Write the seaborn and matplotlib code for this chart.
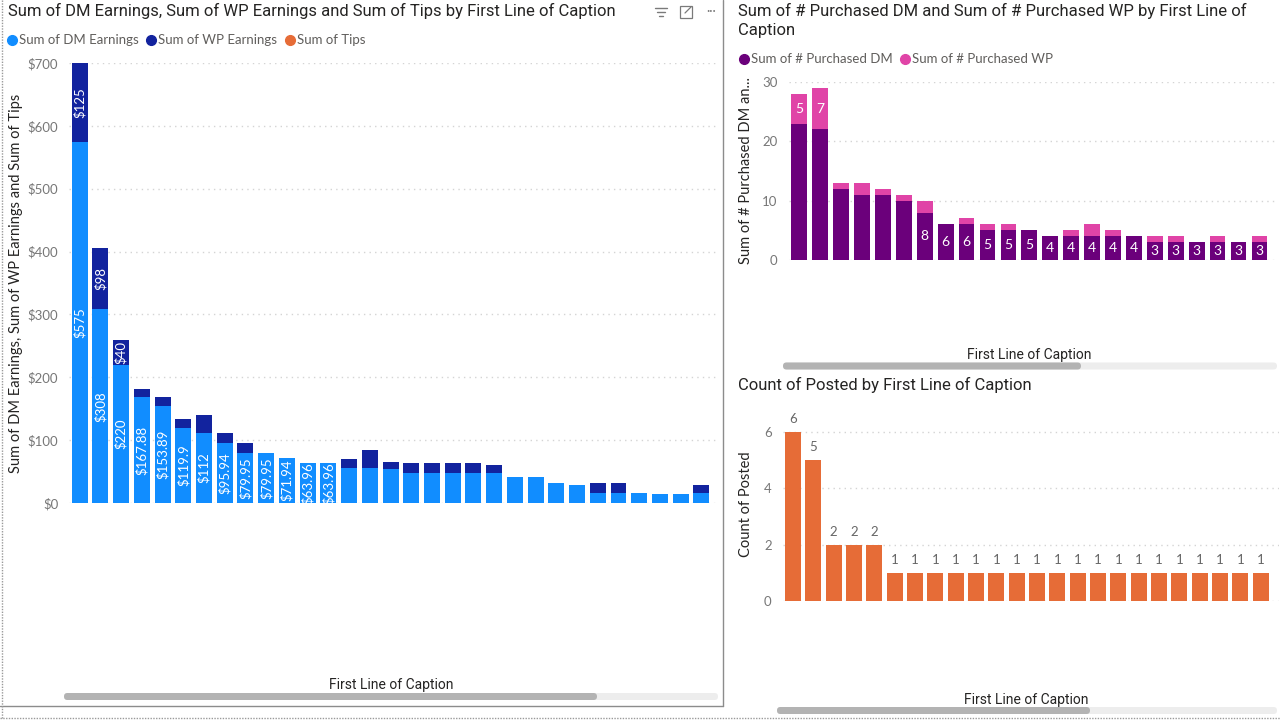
import matplotlib
matplotlib.use("Agg")
import matplotlib.pyplot as plt
from matplotlib.patches import FancyBboxPatch, Rectangle
from matplotlib.transforms import Bbox, TransformedBbox
from matplotlib.ticker import FuncFormatter
import seaborn as sns
import pandas as pd

# ---------------- data ----------------
earn_captions = [f"Caption {i:02d}" for i in range(1, 32)]
dm_earnings = [575, 308, 220, 167.88, 153.89, 119.9, 112, 95.94, 79.95, 79.95,
               71.94, 63.96, 63.96, 55.96, 55.96, 53.97, 47.97, 47.97, 47.97, 47.97,
               47.97, 41.97, 41.97, 31.98, 27.98, 15.99, 15.99, 15.99, 13.99, 13.99, 15.99]
wp_earnings = [125, 98, 40, 13, 14, 14, 28, 16, 16, 0,
               0, 0, 0, 14, 28, 11, 16, 16, 16, 16,
               12, 0, 0, 0, 0, 16, 16, 0, 0, 0, 12]
tips = [0, 0, 0, 0, 0, 0, 0, 0, 0, 0,
        0, 0, 0, 0, 0, 0, 0, 0, 0, 0,
        0, 0, 0, 0, 0, 0, 0, 0, 0, 0, 0]
dm_labeled_bars = 13
wp_labeled_bars = 3

purch_captions = [f"Caption {i:02d}" for i in range(1, 24)]
purchased_dm = [23, 22, 12, 11, 11, 10, 8, 6, 6, 5, 5, 5, 4, 4, 4, 4, 4, 3, 3, 3, 3, 3, 3]
purchased_wp = [5, 7, 1, 2, 1, 1, 2, 0, 1, 1, 1, 0, 0, 1, 2, 1, 0, 1, 1, 0, 1, 0, 1]
dm_count_label_start = 6
wp_count_labeled_bars = 2

posted_captions = [f"Caption {i:02d}" for i in range(1, 25)]
posted_count = [6, 5, 2, 2, 2, 1, 1, 1, 1, 1, 1, 1, 1, 1, 1, 1, 1, 1, 1, 1, 1, 1, 1, 1]

# ---------------- style ----------------
C_DM = "#118DFF"
C_WP = "#12239E"
C_TIPS = "#E66C37"
C_PDM = "#6B007B"
C_PWP = "#E044A7"
C_TITLE = "#252423"
C_TICK = "#777777"
C_LEG = "#605E5C"
GRID = dict(color="#d4d4d4", linestyle=(0, (1, 3)), linewidth=1.0)

sns.set_theme(style="white")
plt.rcParams["font.family"] = ["Lato", "DejaVu Sans"]

W, H = 1280, 721
fig = plt.figure(figsize=(12.8, 7.21), dpi=100)
fig.patch.set_facecolor("white")


def rect(x0, y0, x1, y1):
    return [x0 / W, 1 - y1 / H, (x1 - x0) / W, (y1 - y0) / H]


def style_axes(ax):
    for s in ax.spines.values():
        s.set_visible(False)
    ax.set_axisbelow(True)
    ax.yaxis.grid(True, **GRID)
    ax.xaxis.grid(False)
    ax.tick_params(axis="x", labelbottom=False, length=0)
    ax.tick_params(axis="y", length=0, labelsize=9.5, labelcolor=C_TICK, pad=8)
    ax.set_xlabel("")
    ax.set_facecolor("none")


# ---------------- left chart ----------------
df1 = pd.DataFrame({"caption": earn_captions, "dm": dm_earnings,
                    "wp": wp_earnings, "tips": tips})
df1["wp_top"] = df1["dm"] + df1["wp"]
df1["tips_top"] = df1["wp_top"] + df1["tips"]

ax1 = fig.add_axes(rect(69.3, 63, 718, 503))
sns.barplot(data=df1, x="caption", y="tips_top", color=C_TIPS, saturation=1,
            width=0.77, errorbar=None, linewidth=0, ax=ax1)
sns.barplot(data=df1, x="caption", y="wp_top", color=C_WP, saturation=1,
            width=0.77, errorbar=None, linewidth=0, ax=ax1)
sns.barplot(data=df1, x="caption", y="dm", color=C_DM, saturation=1,
            width=0.77, errorbar=None, linewidth=0, ax=ax1)
ax1.set_xlim(-0.5, 30.8)
ax1.set_ylim(0, 700)
ax1.set_yticks(range(0, 701, 100))
ax1.yaxis.set_major_formatter(FuncFormatter(lambda v, p: f"${v:.0f}"))
style_axes(ax1)
ax1.set_ylabel("Sum of DM Earnings, Sum of WP Earnings and Sum of Tips",
               fontsize=10.5, color=C_TITLE)
ax1.yaxis.set_label_coords((23 - 69.3) / 648.7, 0.5)

dm_bars = ax1.containers[2]
for i in range(dm_labeled_bars):
    b = dm_bars[i]
    t = ax1.text(i, dm_earnings[i] / 2, f"${dm_earnings[i]:g}", rotation=90,
                 ha="center", va="center", color="white", fontsize=9.5)
    bb = Bbox.from_extents(b.get_x(), 0, b.get_x() + b.get_width(), dm_earnings[i])
    t.set_clip_box(TransformedBbox(bb, ax1.transData))
    t.set_clip_on(True)
for i in range(wp_labeled_bars):
    b = dm_bars[i]
    lo, hi = dm_earnings[i], dm_earnings[i] + wp_earnings[i]
    t = ax1.text(i, (lo + hi) / 2, f"${wp_earnings[i]:g}", rotation=90,
                 ha="center", va="center", color="white", fontsize=9.5)
    bb = Bbox.from_extents(b.get_x(), lo, b.get_x() + b.get_width(), hi)
    t.set_clip_box(TransformedBbox(bb, ax1.transData))
    t.set_clip_on(True)

# ---------------- top right chart ----------------
df2 = pd.DataFrame({"caption": purch_captions, "dm": purchased_dm, "wp": purchased_wp})
df2["wp_top"] = df2["dm"] + df2["wp"]

ax2 = fig.add_axes(rect(788.8, 82, 1277, 260))
sns.barplot(data=df2, x="caption", y="wp_top", color=C_PWP, saturation=1,
            width=0.755, errorbar=None, linewidth=0, ax=ax2)
sns.barplot(data=df2, x="caption", y="dm", color=C_PDM, saturation=1,
            width=0.755, errorbar=None, linewidth=0, ax=ax2)
ax2.set_xlim(-0.5, 22.84)
ax2.set_ylim(0, 30)
ax2.set_yticks([0, 10, 20, 30])
style_axes(ax2)
ax2.set_ylabel("Sum of # Purchased DM an...", fontsize=10.5, color=C_TITLE)
ax2.yaxis.set_label_coords((753 - 788.8) / 488.2, 0.5)
for i in range(dm_count_label_start, len(purchased_dm)):
    ax2.text(i, purchased_dm[i] / 2, f"{purchased_dm[i]}", ha="center", va="center",
             color="white", fontsize=10)
for i in range(wp_count_labeled_bars):
    ax2.text(i, purchased_dm[i] + purchased_wp[i] / 2, f"{purchased_wp[i]}",
             ha="center", va="center", color="white", fontsize=10)

# ---------------- bottom right chart ----------------
df3 = pd.DataFrame({"caption": posted_captions, "posted": posted_count})
ax3 = fig.add_axes(rect(782.8, 409.5, 1279, 601))
sns.barplot(data=df3, x="caption", y="posted", color=C_TIPS, saturation=1,
            width=0.78, errorbar=None, linewidth=0, ax=ax3)
ax3.set_xlim(-0.5, 23.9)
ax3.set_ylim(0, 6.8)
ax3.set_yticks([0, 2, 4, 6])
style_axes(ax3)
ax3.set_ylabel("Count of Posted", fontsize=10.5, color=C_TITLE)
ax3.yaxis.set_label_coords((753 - 782.8) / 496.2, 0.507)
ax3.bar_label(ax3.containers[0], labels=[f"{v}" for v in posted_count],
              padding=5, color="#666666", fontsize=9.5)

# ---------------- overlay: titles, legends, scrollbars, frames ----------------
ov = fig.add_axes([0, 0, 1, 1])
ov.set_xlim(0, W)
ov.set_ylim(H, 0)
ov.axis("off")
ov.patch.set_alpha(0)

TF = ["Roboto", "DejaVu Sans"]
ov.text(8, 11, "Sum of DM Earnings, Sum of WP Earnings and Sum of Tips by First Line of Caption",
        fontsize=12, color=C_TITLE, ha="left", va="center", family=TF)
ov.text(738, 11, "Sum of # Purchased DM and Sum of # Purchased WP by First Line of",
        fontsize=12, color=C_TITLE, ha="left", va="center", family=TF)
ov.text(738, 30, "Caption", fontsize=12, color=C_TITLE, ha="left", va="center", family=TF)
ov.text(738, 385, "Count of Posted by First Line of Caption",
        fontsize=12, color=C_TITLE, ha="left", va="center", family=TF)

for (x, y) in [(391, 685), (1029, 355), (1026, 700)]:
    ov.text(x, y, "First Line of Caption", fontsize=10, color=C_TITLE,
            ha="center", va="center", family=TF)

# legends
legend_items = [
    (12, 40, C_DM, "Sum of DM Earnings"),
    (151, 40, C_WP, "Sum of WP Earnings"),
    (290, 40, C_TIPS, "Sum of Tips"),
    (744, 59, C_PDM, "Sum of # Purchased DM"),
    (905, 59, C_PWP, "Sum of # Purchased WP"),
]
for (x, y, c, lab) in legend_items:
    ov.plot([x], [y], marker="o", markersize=7, color=c, linestyle="none")
    ov.text(x + 7, y, lab, fontsize=9.5, color=C_LEG, ha="left", va="center")

# scrollbars
for (x0, x1, xt, y) in [(64, 718, 597, 693), (783, 1277, 1081, 362.5), (777, 1277, 1090, 707)]:
    ov.add_patch(FancyBboxPatch((x0, y), x1 - x0, 7, boxstyle="round,pad=0,rounding_size=3.5",
                                facecolor="#ededed", edgecolor="none"))
    ov.add_patch(FancyBboxPatch((x0, y), xt - x0, 7, boxstyle="round,pad=0,rounding_size=3.5",
                                facecolor="#b3b3b3", edgecolor="none"))

# left panel frame
ov.plot([722.5, 722.5], [0, 705.5], color="#8c8c8c", lw=1)
ov.plot([0, 722.5], [705.5, 705.5], color="#8c8c8c", lw=1)
ov.plot([1.5, 1.5], [0, 718], color="#9a9a9a", lw=1, linestyle=(0, (1, 1)))
ov.plot([0, W], [718, 718], color="#9a9a9a", lw=1, linestyle=(0, (1, 1)))

# header icons
ic = "#7a7a7a"
ov.plot([655, 667], [8, 8], color=ic, lw=1)
ov.plot([657, 665], [12, 12], color=ic, lw=1)
ov.plot([659, 663], [16, 16], color=ic, lw=1)
ov.add_patch(Rectangle((680, 6), 12, 12, fill=False, edgecolor=ic, lw=0.9))
ov.plot([685, 691], [13, 7], color=ic, lw=0.9)
ov.text(711, 11, "···", fontsize=9, color=ic, ha="center", va="center")

fig.savefig("out.png", dpi=100, facecolor="white")
